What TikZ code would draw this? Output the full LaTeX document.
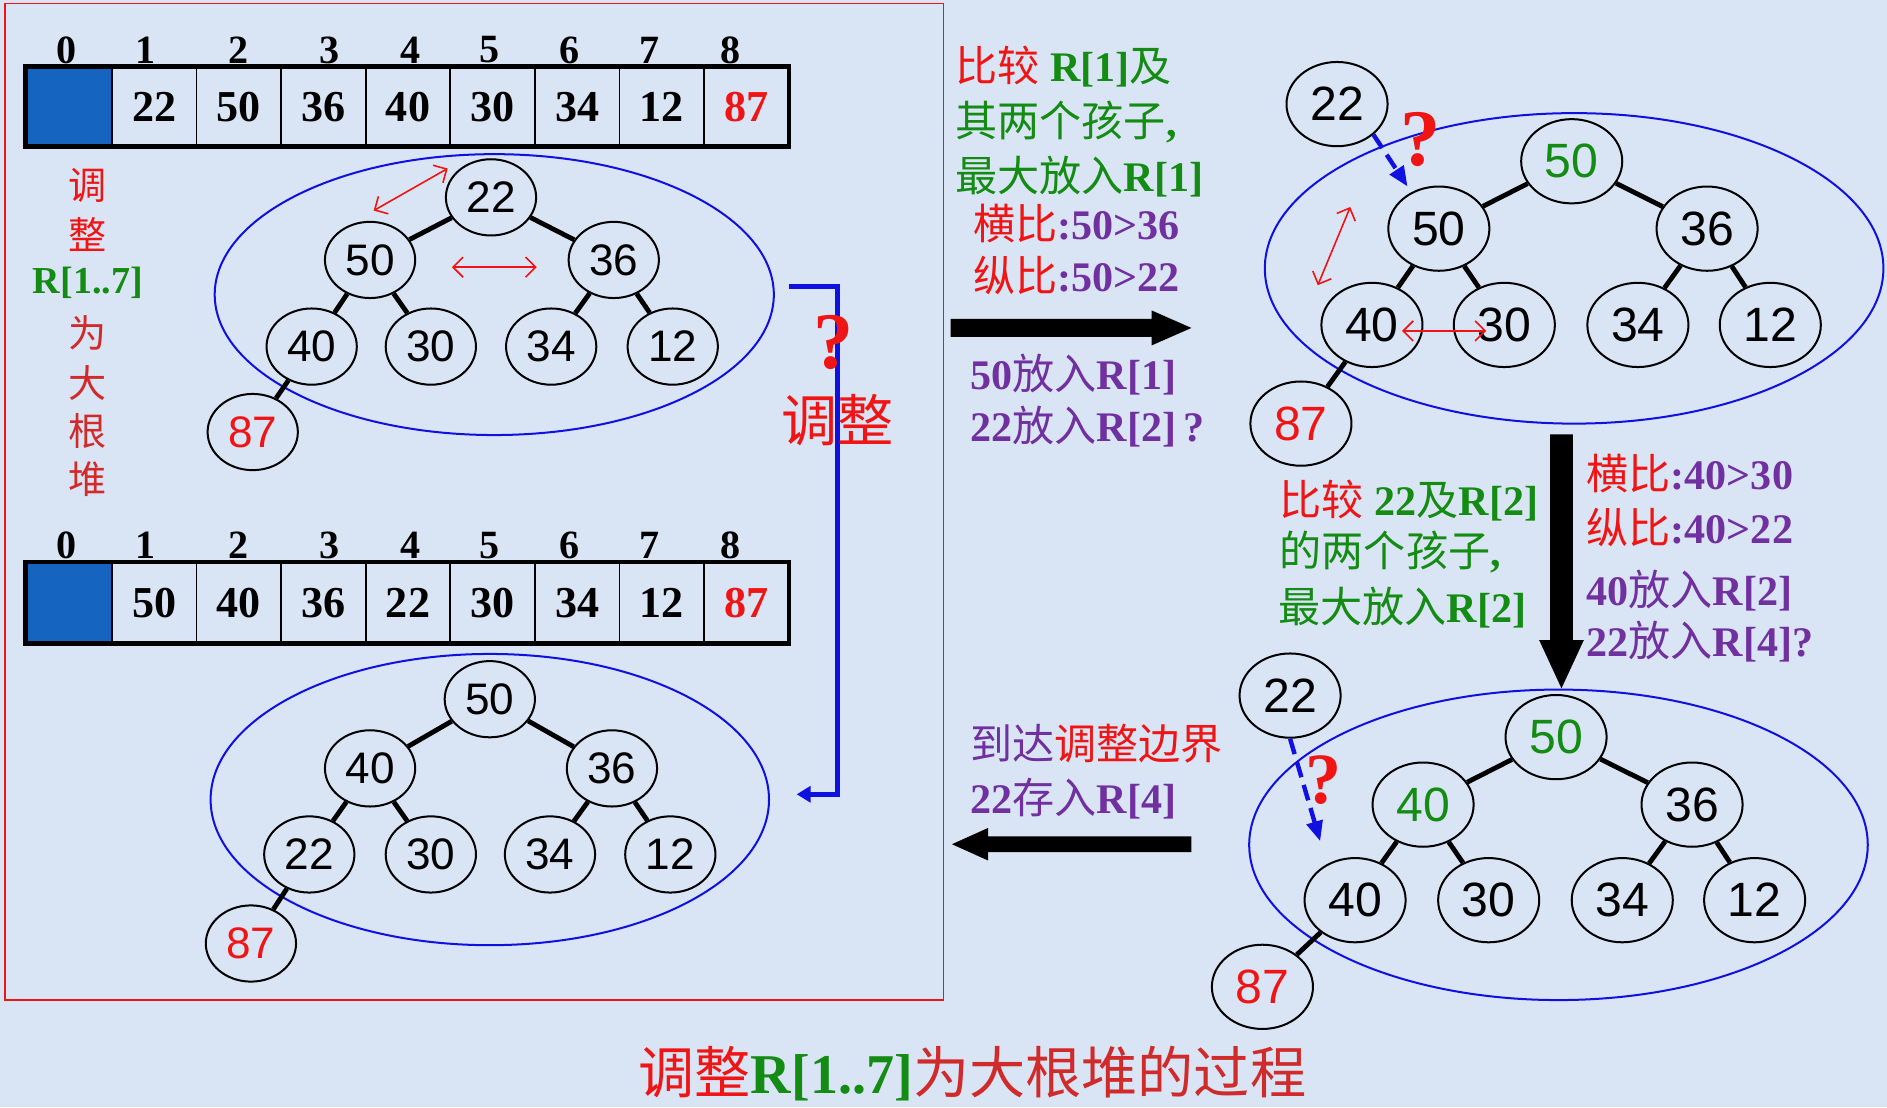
\documentclass[tikz,border=0pt]{standalone}
\usepackage{fontspec}
\setmainfont{Liberation Serif}
\newfontfamily\cjk{Noto Sans CJK SC}[BoldFont={Noto Sans CJK SC}]
\newfontfamily\numfont{Liberation Sans}
\usepackage{xcolor}
\usepackage{tikz}
\usetikzlibrary{calc,arrows.meta,shapes.geometric}
\definecolor{bg}{HTML}{D9E5F4}
\definecolor{hred}{HTML}{F01414}
\definecolor{dred}{HTML}{D02A2A}
\definecolor{hgreen}{HTML}{148C14}
\definecolor{hpurple}{HTML}{7030A0}
\definecolor{hblue}{HTML}{1010E0}
\definecolor{cellblue}{HTML}{1565C0}
\tikzset{
  key/.style={ellipse, draw=black, line width=1pt, inner sep=0pt, minimum width=45pt, minimum height=38pt, font=\numfont\fontsize{22}{22}\selectfont},
  keyb/.style={key, minimum width=50.4pt, minimum height=42pt, font=\numfont\fontsize{24}{24}\selectfont},
  link/.style={draw=black, line width=2.4pt},
  hull/.style={draw=hblue, line width=1pt},
  swap/.style={draw=hred, line width=0.8pt, {Straight Barb[length=5pt]}-{Straight Barb[length=5pt]}},
  move/.style={draw=hblue, line width=2.2pt, dash pattern=on 8pt off 4pt, -{Triangle[length=10pt,width=8pt]}},
  cell/.style={draw=black, line width=0.9pt},
  frame/.style={draw=black, line width=2.4pt},
  bracket/.style={draw=hblue, line width=2.5pt, -{Triangle[length=7pt,width=8pt]}},
  block/.style={fill=black},
  idx/.style={inner sep=0pt, font=\bfseries\fontsize{20}{20}\selectfont},
  val/.style={inner sep=0pt, font=\bfseries\fontsize{22}{22}\selectfont},
  lab/.style={anchor=west, inner sep=0pt, font=\bfseries\fontsize{21}{21}\selectfont},
  side/.style={inner sep=0pt, font=\bfseries\fontsize{19}{19}\selectfont},
  ask/.style={inner sep=0pt, text=hred, font=\bfseries\fontsize{40}{40}\selectfont}
}
\begin{document}
\begin{tikzpicture}[x=0.6pt, y=-0.6pt]
  % page
  \fill[bg] (0,0) rectangle (1568,920);
  \useasboundingbox (0,0) rectangle (1568,920);
  \draw[hred, line width=0.8pt] (4,3) rectangle (784,831);

  % array before
  \fill[cellblue] (21,55.5) rectangle (93,122);
  \foreach \i in {0,...,7}
    \draw[cell] ({93+70.3*\i},55.5) -- ({93+70.3*\i},122);
  \draw[frame] (21,55.5) rectangle (655.6,122);
  \foreach \i/\v/\c in {1/22/black,2/50/black,3/36/black,4/40/black,5/30/black,6/34/black,7/12/black,8/87/hred}
    \node[val, text=\c] (ra\i) at ({93+70.3*(\i-0.5)},89) {\v};
  \foreach \i/\x in {0/55,1/121,2/198,3/274,4/341,5/407,6/473,7/540,8/607}
    \node[idx] (ia\i) at (\x,41.5) {\i};

  % array after
  \fill[cellblue] (21,467) rectangle (93,535);
  \foreach \i in {0,...,7}
    \draw[cell] ({93+70.3*\i},467) -- ({93+70.3*\i},535);
  \draw[frame] (21,467) rectangle (655.6,535);
  \foreach \i/\v/\c in {1/50/black,2/40/black,3/36/black,4/22/black,5/30/black,6/34/black,7/12/black,8/87/hred}
    \node[val, text=\c] (rb\i) at ({93+70.3*(\i-0.5)},501) {\v};
  \foreach \i/\x in {0/55,1/121,2/198,3/274,4/341,5/407,6/473,7/540,8/607}
    \node[idx] (ib\i) at (\x,453) {\i};

  % side title
  \node[side, text=hred] (s1) at (73,154) {\cjk 调};
  \node[side, text=hred] (s2) at (73,195) {\cjk 整};
  \node[side, text=hgreen] (s3) at (73,235) {R[1..7]};
  \node[side, text=dred] (s4) at (73,277) {\cjk 为};
  \node[side, text=dred] (s5) at (73,318) {\cjk 大};
  \node[side, text=dred] (s6) at (73,358) {\cjk 根};
  \node[side, text=dred] (s7) at (73,398) {\cjk 堆};

  % tree a: start
  \draw[hull] (410.7,244.8) ellipse [x radius=232.3, y radius=116.7];
  \node[key] (a1) at (408,164) {22};
  \node[key] (a2) at (307.5,216) {50};
  \node[key] (a3) at (510,216) {36};
  \node[key] (a4) at (259,288) {40};
  \node[key] (a5) at (358,288) {30};
  \node[key] (a6) at (458,288) {34};
  \node[key] (a7) at (559,288) {12};
  \node[key, text=hred] (a8) at (210,359) {87};
  \draw[link] (a1) -- (a2) (a1) -- (a3) (a2) -- (a4) (a2) -- (a5)
    (a3) -- (a6) (a3) -- (a7) (a4) -- (a8);
  \draw[swap] ($(a1)+(-36,-24)$) -- ($(a2)+(3,-41)$);
  \draw[swap] ($(a2)+(68,6)$) -- ($(a3)+(-64,6)$);

  % tree b: heap
  \draw[hull] (407,664.4) ellipse [x radius=232, y radius=121];
  \node[key] (b1) at (407,581) {50};
  \node[key] (b2) at (307.5,638.5) {40};
  \node[key] (b3) at (508.5,638.5) {36};
  \node[key] (b4) at (257,710) {22};
  \node[key] (b5) at (358,710) {30};
  \node[key] (b6) at (457,710) {34};
  \node[key] (b7) at (557,710) {12};
  \node[key, text=hred] (b8) at (208.5,784) {87};
  \draw[link] (b1) -- (b2) (b1) -- (b3) (b2) -- (b4) (b2) -- (b5)
    (b3) -- (b6) (b3) -- (b7) (b4) -- (b8);

  % bracket between them
  \draw[bracket] (656,238) -| (696,660) -- (662,660);
  \node[ask] (qa) at (693,285) {?};
  \node[inner sep=0pt, text=hred, font=\fontsize{28}{28}\selectfont] (tz) at (696,349) {\cjk 调整};

  % tree c: step one
  \draw[hull] (1308,223) ellipse [x radius=257, y radius=129];
  \node[keyb] (c0) at (1111,86.5) {22};
  \node[keyb, text=hgreen] (c1) at (1306,134) {50};
  \node[keyb] (c2) at (1195.6,190) {50};
  \node[keyb] (c3) at (1418.5,190) {36};
  \node[keyb] (c4) at (1140,270) {40};
  \node[keyb] (c5) at (1250,270) {30};
  \node[keyb] (c6) at (1361,270) {34};
  \node[keyb] (c7) at (1471,270) {12};
  \node[keyb, text=hred] (c8) at (1081,352) {87};
  \draw[link] (c1) -- (c2) (c1) -- (c3) (c2) -- (c4) (c2) -- (c5)
    (c3) -- (c6) (c3) -- (c7) (c4) -- (c8);
  \draw[swap] ($(c2)+(-73.6,-18)$) -- ($(c4)+(-45,-33)$);
  \draw[swap] ($(c4)+(25,5)$) -- ($(c5)+(-15,5)$);
  \draw[move] (c0.-40) -- ($(c2)+(-26,-35)$);
  \node[ask] (qc) at (1180,116) {?};

  % tree d: step two
  \draw[hull] (1295,702) ellipse [x radius=257, y radius=129];
  \node[keyb] (d0) at (1072,578) {22};
  \node[keyb, text=hgreen] (d1) at (1293,612.5) {50};
  \node[keyb, text=hgreen] (d2) at (1182.5,668.6) {40};
  \node[keyb] (d3) at (1406,668.6) {36};
  \node[keyb] (d4) at (1126,748) {40};
  \node[keyb] (d5) at (1237,748) {30};
  \node[keyb] (d6) at (1348,748) {34};
  \node[keyb] (d7) at (1458,748) {12};
  \node[keyb, text=hred] (d8) at (1049,820) {87};
  \draw[link] (d1) -- (d2) (d1) -- (d3) (d2) -- (d4) (d2) -- (d5)
    (d3) -- (d6) (d3) -- (d7) (d4) -- (d8);
  \draw[move] (d0.south) -- ($(d4)+(-29,-49)$);
  \node[ask, font=\bfseries\fontsize{36}{36}\selectfont] (qd) at (1100,648) {?};

  % big arrows
  \fill[block] (790,265) -- (957,265) -- (957,258) -- (990,272.5) -- (957,287) -- (957,280) -- (790,280) -- cycle;
  \fill[block] (1288,361) -- (1307,361) -- (1307,532) -- (1316,532) -- (1297.5,572) -- (1279,532) -- (1288,532) -- cycle;
  \fill[block] (990,695) -- (821,695) -- (821,688) -- (791,701.5) -- (821,715) -- (821,708) -- (990,708) -- cycle;

  % notes, first step
  \node[lab] (m1) at (793.6,55.4) {\textcolor{hred}{\cjk 比较} \textcolor{hgreen}{R[1]{\cjk 及}}};
  \node[lab, text=hgreen] (m2) at (793.6,101) {{\cjk 其两个孩子},};
  \node[lab, text=hgreen] (m3) at (793.6,146.8) {{\cjk 最大放入}R[1]};
  \node[lab] (m4) at (808.6,185.6) {\textcolor{hred}{\cjk 横比}\textcolor{hpurple}{:50>36}};
  \node[lab] (m5) at (808.6,228.5) {\textcolor{hred}{\cjk 纵比}\textcolor{hpurple}{:50>22}};
  \node[lab, text=hpurple] (m6) at (806,311.6) {50{\cjk 放入}R[1]};
  \node[lab, text=hpurple] (m7) at (806,354.6) {22{\cjk 放入}R[2]\,?};

  % notes, second step
  \node[lab] (n1) at (1063,415.6) {\textcolor{hred}{\cjk 比较} \textcolor{hgreen}{22{\cjk 及}R[2]}};
  \node[lab, text=hgreen] (n2) at (1063,458.7) {{\cjk 的两个孩子},};
  \node[lab, text=hgreen] (n3) at (1062,504.8) {{\cjk 最大放入}R[2]};
  \node[lab] (k1) at (1318,393.6) {\textcolor{hred}{\cjk 横比}\textcolor{hpurple}{:40>30}};
  \node[lab] (k2) at (1318,438) {\textcolor{hred}{\cjk 纵比}\textcolor{hpurple}{:40>22}};
  \node[lab, text=hpurple] (k3) at (1318,490.6) {40{\cjk 放入}R[2]};
  \node[lab, text=hpurple] (k4) at (1318,533.5) {22{\cjk 放入}R[4]?};

  % notes, end
  \node[lab] (q1) at (806,617.7) {\textcolor{hpurple}{\cjk 到达}\textcolor{hred}{\cjk 调整边界}};
  \node[lab, text=hpurple] (q2) at (806,664) {22{\cjk 存入}R[4]};

  % caption
  \node[inner sep=0pt, font=\bfseries\fontsize{28}{28}\selectfont] (cap) at (808,892)
    {\textcolor{hred}{\cjk 调整}\textcolor{hgreen}{R[1..7]}\textcolor{dred}{\cjk 为大根堆的过程}};
\end{tikzpicture}
\end{document}
